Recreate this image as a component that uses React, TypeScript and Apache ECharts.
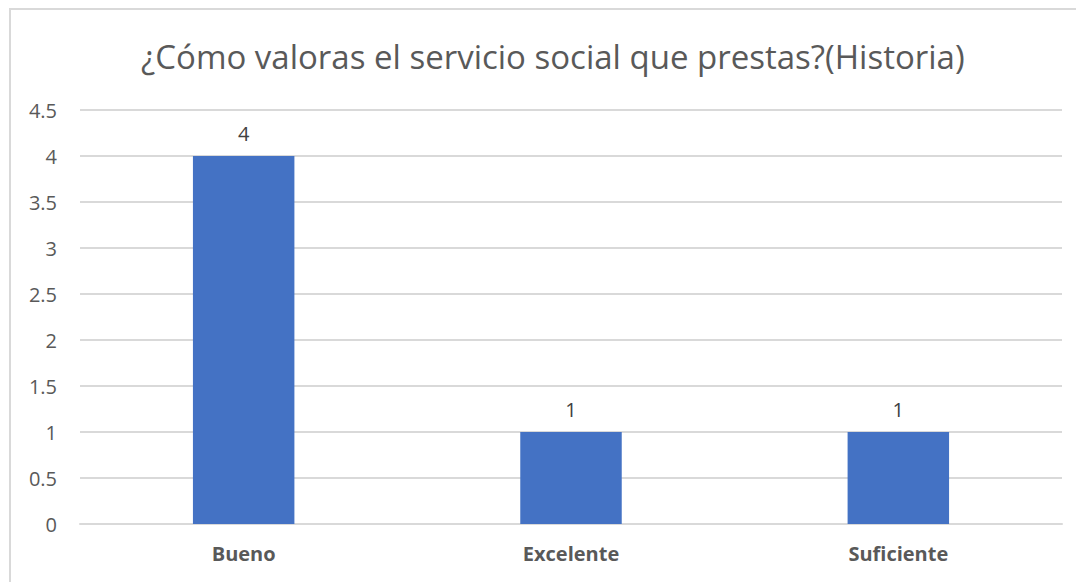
import React, { useEffect, useRef } from "react";
import * as echarts from "echarts";

const titleText = "¿Cómo valoras el servicio social que prestas?(Historia)";
const categories = ["Bueno", "Excelente", "Suficiente"];
const values = [4, 1, 1];
const yMin = 0;
const yMax = 4.5;
const yInterval = 0.5;

export default function App() {
  const ref = useRef<HTMLDivElement>(null);
  useEffect(() => {
    document.body.style.margin = "0";
    const chart = echarts.init(ref.current!, null, { renderer: "svg" });
    const font = "'Open Sans', sans-serif";
    chart.setOption({
      animation: false,
      backgroundColor: "#ffffff",
      title: {
        text: titleText,
        left: 136,
        top: 35,
        textStyle: { fontFamily: font, fontSize: 33, fontWeight: "normal", color: "#595959" },
      },
      graphic: [
        {
          type: "rect",
          shape: { x: 10, y: 9, width: 1100, height: 620 },
          style: { fill: "none", stroke: "#d9d9d9", lineWidth: 2 },
          silent: true,
        },
      ],
      grid: { left: 80, right: 14, top: 110, bottom: 58, containLabel: false },
      xAxis: {
        type: "category",
        data: categories,
        axisLine: { show: true, lineStyle: { color: "#d9d9d9", width: 2 } },
        axisTick: { show: false },
        axisLabel: {
          fontFamily: font,
          fontSize: 20,
          fontWeight: "bold",
          color: "#595959",
          margin: 19,
        },
      },
      yAxis: {
        type: "value",
        min: yMin,
        max: yMax,
        interval: yInterval,
        axisLine: { show: false },
        axisTick: { show: false },
        splitLine: { lineStyle: { color: "#d9d9d9", width: 2 } },
        axisLabel: { fontFamily: font, fontSize: 20, color: "#595959", margin: 23 },
      },
      series: [
        {
          type: "bar",
          data: values,
          barWidth: "31%",
          itemStyle: { color: "#4472C4" },
          label: {
            show: true,
            position: "top",
            distance: 13,
            fontFamily: font,
            fontSize: 20,
            color: "#404040",
          },
        },
      ],
    });
    return () => chart.dispose();
  }, []);
  return (
    <div
      ref={ref}
      style={{ position: "absolute", left: 0, top: 0, width: 1076, height: 582 }}
    />
  );
}
